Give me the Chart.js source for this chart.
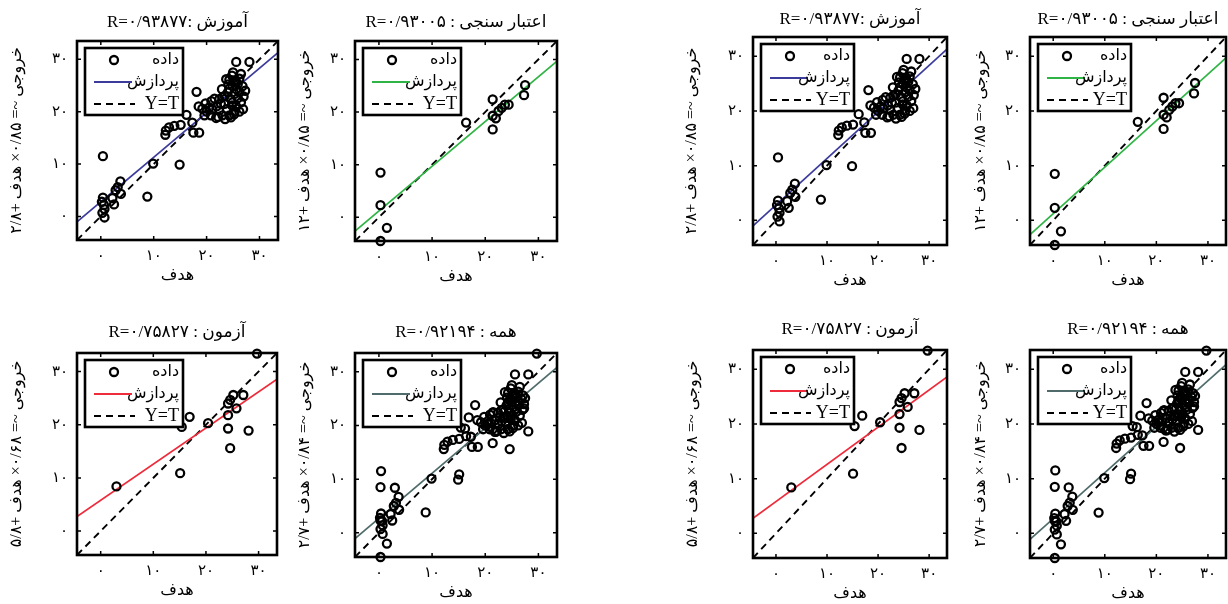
<!DOCTYPE html>
<html>
<head>
<meta charset="utf-8">
<script src="https://cdn.jsdelivr.net/npm/chart.js@4.4.1/dist/chart.umd.min.js"></script>
<style>
  body { margin: 0; background: #fff; width: 1228px; height: 604px; overflow: hidden; position: relative; }
  canvas { position: absolute; }
</style>
</head>
<body>
<script>
// training set (target, output)
var trainX = [0.4, 0.4, 0.2, 0.6, 0.7, 0.3, 0.7, 2.5, 2.2, 2.8, 3.7, 3.8, 3.2,
              8.8, 9.9, 14.9,
              12.3, 12.2, 12.9, 13.9, 15.1, 16.2, 17.3, 17.5, 18.6,
              18.1, 18.5, 19.2, 20.0, 19.6, 20.8, 21.1, 21.9, 22.7, 22.4, 23.5, 24.3, 25.3, 26.2,
              21.5, 22.4, 23.4, 24.0, 24.3, 24.9, 25.6, 26.2, 25.3, 25.9, 26.5, 27.0, 27.3, 26.8,
              26.5, 25.6, 28.1, 24.9, 25.6, 23.7, 24.3, 24.8, 23.4, 23.8, 24.6, 25.6, 26.2, 25.9,
              25.3, 23.0, 24.8, 21.8, 20.5, 19.8, 22.9, 24.1, 25.0, 26.9, 25.2, 24.6, 23.0, 22.2, 20.9];
var trainY = [11.5, 3.6, 2.8, 2.2, 1.4, 0.7, -0.2, 2.3, 3.5, 5.0, 6.7, 4.3, 5.6,
              3.8, 10.1, 9.9,
              16.4, 15.6, 17.0, 17.3, 17.5, 19.4, 17.9, 16.0, 16.0,
              23.8, 21.0, 20.6, 20.0, 19.3, 19.3, 20.4, 21.0, 21.5, 20.2, 18.6, 19.3, 20.0, 20.0,
              22.5, 22.4, 23.0, 23.7, 24.4, 24.9, 25.6, 26.3, 23.4, 22.6, 21.8, 22.9, 24.0, 24.9,
              27.2, 29.5, 29.5, 21.8, 21.0, 26.2, 26.1, 26.9, 21.5, 20.5, 22.4, 24.3, 23.7, 25.3,
              25.9, 19.3, 21.2, 18.8, 20.8, 21.6, 24.3, 25.2, 27.5, 20.5, 19.5, 18.9, 22.8, 19.0, 22.0];

// validation set
var valX = [0.3, 0.3, 1.5, 0.3, 16.4, 21.4, 21.4, 21.4, 22.0, 22.5, 23.1, 23.7, 24.4, 27.5, 27.3];
var valY = [8.5, 2.3, -2.0, -4.5, 18.0, 22.4, 19.3, 16.7, 18.8, 20.2, 20.8, 21.4, 21.4, 25.1, 23.2];

// test set
var testX = [3.0, 15.1, 15.4, 16.9, 20.4, 24.2, 24.6, 25.2, 24.2, 25.8, 27.1, 24.2, 24.6, 28.1, 29.7];
var testY = [8.4, 10.9, 19.6, 21.5, 20.3, 21.8, 24.7, 25.6, 24.0, 23.1, 25.6, 19.3, 15.6, 18.9, 33.4];

// all = union of the three
var allX = trainX.concat(valX, testX);
var allY = trainY.concat(valY, testY);

var setX = [trainX, valX, testX, allX];
var setY = [trainY, valY, testY, allY];

// fitted line  output ~= slope * target + intercept
var fitSlope = [0.85, 0.85, 0.68, 0.84];
var fitIntercept = [2.8, 1.2, 5.8, 2.7];
var fitColor = ['#3b3b9c', '#2fb445', '#ee2b3b', '#4f6b6b'];

var titles = ['R=۰/۹۳۸۷۷: آموزش', 'R=۰/۹۳۰۰۵ : اعتبار سنجی', 'R=۰/۷۵۸۲۷ : آزمون', 'R=۰/۹۲۱۹۴ : همه'];
var yTitles = ['خروجی ~= ۰/۸۵× هدف +۲/۸', 'خروجی ~= ۰/۸۵× هدف +۱۲', 'خروجی ~= ۰/۶۸× هدف +۵/۸', 'خروجی ~= ۰/۸۴× هدف +۲/۷'];
var xTitle = 'هدف';
var legendLabels = ['داده', 'پردازش', 'Y=T'];

var tickValues = [0, 10, 20, 30];
var axisMin = -4.5, axisMax = 33.5;

// where each panel's frame sits on the page
var panels = [
  {set: 0, x: 77, y: 41, w: 201, h: 199, yOff: 60, tGap: 18, legW: 98},
  {set: 1, x: 355, y: 41, w: 202, h: 200, yOff: 50, tGap: 18, legW: 98},
  {set: 2, x: 77, y: 353, w: 200, h: 202, yOff: 60, tGap: 20, legW: 98},
  {set: 3, x: 355, y: 353, w: 202, h: 204, yOff: 50, tGap: 20, legW: 98},
  {set: 0, x: 753, y: 37, w: 194, h: 208, yOff: 61, tGap: 17, legW: 93},
  {set: 1, x: 1030, y: 37, w: 196, h: 208, yOff: 49, tGap: 17, legW: 93},
  {set: 2, x: 753, y: 350, w: 194, h: 208, yOff: 60, tGap: 20, legW: 93},
  {set: 3, x: 1030, y: 350, w: 196, h: 208, yOff: 49, tGap: 20, legW: 93}
];

var FONT = '"Liberation Serif", "DejaVu Sans", serif';

function toFa(v) {
  return String(v).replace(/\d/g, function (d) { return '۰۱۲۳۴۵۶۷۸۹'[d]; });
}

// frame, inward ticks and the legend box
var framePlugin = {
  id: 'frame',
  afterDraw: function (chart, args, opts) {
    var ctx = chart.ctx, a = chart.chartArea;
    var sx = chart.scales.x, sy = chart.scales.y;
    ctx.save();
    ctx.strokeStyle = '#000';
    ctx.lineWidth = 1.5;
    tickValues.forEach(function (v) {
      var px = sx.getPixelForValue(v), py = sy.getPixelForValue(v);
      ctx.beginPath();
      ctx.moveTo(px, a.top); ctx.lineTo(px, a.top + 4);
      ctx.moveTo(px, a.bottom); ctx.lineTo(px, a.bottom - 4);
      ctx.moveTo(a.left, py); ctx.lineTo(a.left + 4, py);
      ctx.moveTo(a.right, py); ctx.lineTo(a.right - 4, py);
      ctx.stroke();
    });
    ctx.lineWidth = 2.6;
    ctx.strokeRect(a.left, a.top, a.right - a.left, a.bottom - a.top);

    // legend
    var bx = a.left + 8, by = a.top + 7, bw = opts.legW, bh = 67;
    ctx.fillStyle = '#fff';
    ctx.fillRect(bx, by, bw, bh);
    ctx.strokeRect(bx, by, bw, bh);
    var rows = [by + 12, by + 34, by + 56];
    ctx.lineWidth = 2.3;
    ctx.beginPath();
    ctx.arc(bx + 29, rows[0], 4, 0, Math.PI * 2);
    ctx.stroke();
    ctx.lineWidth = 2;
    ctx.strokeStyle = opts.color;
    ctx.beginPath();
    ctx.moveTo(bx + 9, rows[1]); ctx.lineTo(bx + 47, rows[1]);
    ctx.stroke();
    ctx.strokeStyle = '#000';
    ctx.setLineDash([7, 5]);
    ctx.beginPath();
    ctx.moveTo(bx + 9, rows[2]); ctx.lineTo(bx + 50, rows[2]);
    ctx.stroke();
    ctx.setLineDash([]);
    ctx.fillStyle = '#000';
    ctx.textAlign = 'right';
    ctx.textBaseline = 'middle';
    ctx.font = '16px ' + FONT;
    ctx.fillText(legendLabels[0], bx + bw - 4, rows[0]);
    ctx.fillText(legendLabels[1], bx + bw - 4, rows[1]);
    ctx.font = '18px ' + FONT;
    ctx.fillText(legendLabels[2], bx + bw - 4, rows[2]);
    ctx.restore();
  }
};

function makePanel(p) {
  var k = p.set;
  var yW = 72, xH = 48, padR = 8, padB = 4, titleTop = 4, lineH = 20;
  var titleH = titleTop + lineH + (p.tGap - 10);

  var cv = document.createElement('canvas');
  cv.width = yW + p.w + padR;
  cv.height = titleH + p.h + xH + padB;
  cv.style.left = (p.x - yW) + 'px';
  cv.style.top = (p.y - titleH) + 'px';
  document.body.appendChild(cv);

  var pts = setX[k].map(function (x, i) { return {x: x, y: setY[k][i]}; });
  var fit = [axisMin, axisMax].map(function (x) { return {x: x, y: fitSlope[k] * x + fitIntercept[k]}; });
  var diag = [axisMin, axisMax].map(function (x) { return {x: x, y: x}; });

  new Chart(cv, {
    type: 'scatter',
    data: {
      datasets: [
        {
          label: legendLabels[0],
          data: pts,
          pointStyle: 'circle',
          pointRadius: 4,
          borderWidth: 2.3,
          borderColor: '#000',
          backgroundColor: 'rgba(0,0,0,0)',
          clip: false
        },
        {
          label: legendLabels[1],
          type: 'line',
          data: fit,
          borderColor: fitColor[k],
          borderWidth: 1.7,
          pointRadius: 0,
          fill: false
        },
        {
          label: legendLabels[2],
          type: 'line',
          data: diag,
          borderColor: '#000',
          borderWidth: 1.9,
          borderDash: [7, 5],
          pointRadius: 0,
          fill: false
        }
      ]
    },
    options: {
      responsive: false,
      animation: false,
      layout: { padding: { left: 0, right: padR, top: 0, bottom: padB } },
      scales: {
        x: {
          type: 'linear',
          min: axisMin,
          max: axisMax,
          afterBuildTicks: function (s) { s.ticks = tickValues.map(function (v) { return {value: v}; }); },
          afterFit: function (s) { s.height = xH; },
          grid: { display: false, drawTicks: false },
          border: { display: false },
          ticks: { callback: toFa, padding: 7, color: '#000', font: { family: FONT, size: 15 } },
          title: {
            display: true, text: xTitle, color: '#000',
            font: { family: FONT, size: 16, lineHeight: '20px' },
            padding: { top: 0, bottom: 2 }
          }
        },
        y: {
          type: 'linear',
          min: axisMin,
          max: axisMax,
          afterBuildTicks: function (s) { s.ticks = tickValues.map(function (v) { return {value: v}; }); },
          afterFit: function (s) { s.width = yW; },
          grid: { display: false, drawTicks: false },
          border: { display: false },
          ticks: { callback: toFa, padding: 9, color: '#000', font: { family: FONT, size: 15 } },
          title: {
            display: true, text: yTitles[k], color: '#000',
            font: { family: FONT, size: 16, lineHeight: '20px' },
            padding: { top: 62 - p.yOff, bottom: 0 }
          }
        }
      },
      plugins: {
        legend: { display: false },
        tooltip: { enabled: false },
        title: {
          display: true,
          text: titles[k],
          fullSize: false,
          color: '#000',
          font: { family: FONT, size: 17, weight: 'normal', lineHeight: '20px' },
          padding: { top: titleTop, bottom: p.tGap - 10 }
        },
        frame: { legW: p.legW, color: fitColor[k] }
      }
    },
    plugins: [framePlugin]
  });
}

panels.forEach(makePanel);
</script>
</body>
</html>
